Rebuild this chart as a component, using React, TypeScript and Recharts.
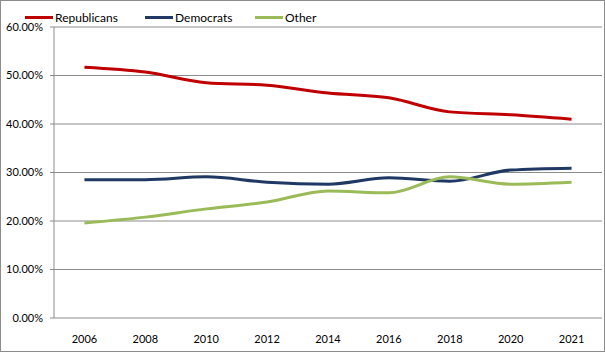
import React from "react";
import { LineChart, Line, XAxis, YAxis, CartesianGrid } from "recharts";

const years = ["2006", "2008", "2010", "2012", "2014", "2016", "2018", "2020", "2021"];
const republicans = [51.7, 50.7, 48.5, 48.0, 46.4, 45.4, 42.5, 41.9, 41.0];
const democrats = [28.5, 28.5, 29.1, 28.0, 27.6, 28.9, 28.2, 30.5, 30.9];
const other = [19.6, 20.8, 22.5, 23.9, 26.2, 25.8, 29.1, 27.6, 28.0];

const yTicks = [0, 10, 20, 30, 40, 50, 60];
const labelTicks = years.map((_, i) => i);
const boundaryTicks = [...years.map((_, i) => i - 0.5), years.length - 0.5];

const series = [
  { key: "rep", name: "Republicans", color: "#C00000", w: 120 },
  { key: "dem", name: "Democrats", color: "#1F3864", w: 110 },
  { key: "oth", name: "Other", color: "#9BBB59", w: 80 },
];

const data = years.map((y, i) => ({
  i,
  year: y,
  rep: republicans[i],
  dem: democrats[i],
  oth: other[i],
}));

const FONT = "Lato, 'Open Sans', sans-serif";

const LegendBox = () => (
  <div
    style={{
      position: "absolute",
      top: 9,
      left: 24,
      display: "flex",
      alignItems: "center",
      fontFamily: FONT,
      fontSize: 12,
      color: "#000",
      zIndex: 2,
    }}
  >
    {series.map((s) => (
      <div key={s.key} style={{ display: "flex", alignItems: "center", width: s.w }}>
        <div style={{ width: 28, height: 3, background: s.color, marginRight: 2 }} />
        <span>{s.name}</span>
      </div>
    ))}
  </div>
);

export default function App() {
  return (
    <div
      style={{
        position: "fixed",
        top: 0,
        left: 0,
        width: 605,
        height: 352,
        boxSizing: "border-box",
        border: "1px solid #8c8c8c",
        background: "#fff",
      }}
    >
      <LegendBox />
      <LineChart width={603} height={350} data={data} margin={{ top: 26, right: 2, bottom: 0, left: 0 }}>
        <CartesianGrid vertical={false} stroke="#8c8c8c" />
        <XAxis
          type="number"
          dataKey="i"
          domain={[-0.5, years.length - 0.5]}
          ticks={labelTicks}
          tickFormatter={(v) => years[v]}
          tickLine={false}
          axisLine={false}
          interval={0}
          height={33}
          tickMargin={11}
          tick={{ fill: "#000", fontSize: 11, fontFamily: FONT }}
        />
        <XAxis
          xAxisId="bounds"
          type="number"
          dataKey="i"
          domain={[-0.5, years.length - 0.5]}
          ticks={boundaryTicks}
          tick={false}
          tickSize={5}
          interval={0}
          height={0}
          stroke="#8c8c8c"
        />
        <YAxis
          width={53}
          domain={[0, 60]}
          ticks={yTicks}
          tickFormatter={(v) => `${v.toFixed(2)}%`}
          tickSize={4}
          tickMargin={7}
          stroke="#8c8c8c"
          tick={{ fill: "#000", fontSize: 11, fontFamily: FONT }}
        />
        {series.map((s) => (
          <Line
            key={s.key}
            type="monotone"
            dataKey={s.key}
            name={s.name}
            stroke={s.color}
            strokeWidth={3}
            dot={false}
            isAnimationActive={false}
          />
        ))}
      </LineChart>
    </div>
  );
}
